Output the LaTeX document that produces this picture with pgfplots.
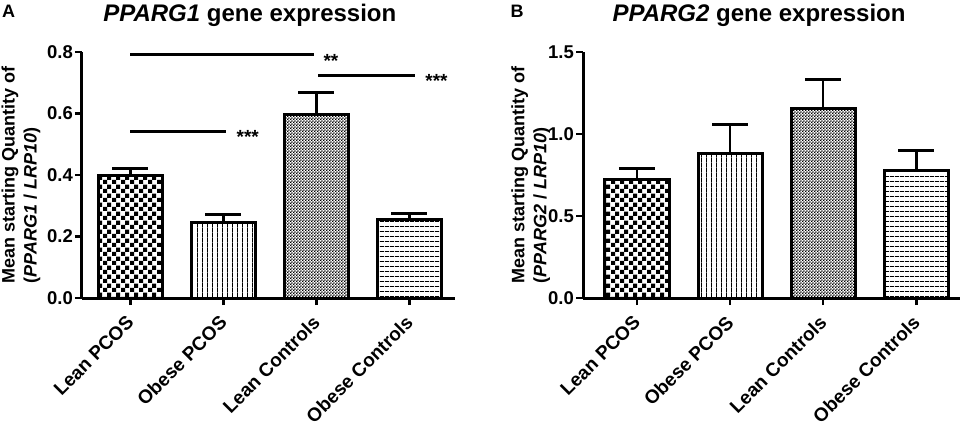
\documentclass[border=0pt]{standalone}
\usepackage{fontspec}
\setmainfont{Liberation Sans}
\usepackage{pgfplots}
\pgfplotsset{compat=1.18}
\usetikzlibrary{patterns}

\pgfdeclarepatternformonly{bigcheck}{\pgfpointorigin}{\pgfqpoint{8.6pt}{8.6pt}}{\pgfqpoint{8.6pt}{8.6pt}}{%
  \pgfpathrectangle{\pgfpointorigin}{\pgfqpoint{4.3pt}{4.3pt}}%
  \pgfpathrectangle{\pgfqpoint{4.3pt}{4.3pt}}{\pgfqpoint{4.3pt}{4.3pt}}%
  \pgfusepath{fill}}
\pgfdeclarepatternformonly{smallcheck}{\pgfpointorigin}{\pgfqpoint{3.2pt}{3.2pt}}{\pgfqpoint{3.2pt}{3.2pt}}{%
  \pgfpathrectangle{\pgfpointorigin}{\pgfqpoint{1.6pt}{1.6pt}}%
  \pgfpathrectangle{\pgfqpoint{1.6pt}{1.6pt}}{\pgfqpoint{1.6pt}{1.6pt}}%
  \pgfusepath{fill}}
\pgfdeclarepatternformonly{vlines}{\pgfpointorigin}{\pgfqpoint{5.2pt}{5.2pt}}{\pgfqpoint{5.2pt}{5.2pt}}{%
  \pgfpathrectangle{\pgfpointorigin}{\pgfqpoint{1pt}{5.2pt}}%
  \pgfusepath{fill}}
\pgfdeclarepatternformonly{hlines}{\pgfpointorigin}{\pgfqpoint{5pt}{5pt}}{\pgfqpoint{5pt}{5pt}}{%
  \pgfpathrectangle{\pgfpointorigin}{\pgfqpoint{5pt}{1pt}}%
  \pgfusepath{fill}}

\pgfplotsset{
  prism/.style={
    scale only axis,
    anchor=south west,
    height=246pt,
    ymin=0,
    axis lines=left,
    axis line style={-, line width=3pt, black},
    tick style={black, line width=2.5pt},
    major tick length=7pt,
    tick align=outside,
    xtick={0,1,2,3},
    xticklabels={Lean PCOS,Obese PCOS,Lean Controls,Obese Controls},
    x tick label style={yshift=-9pt, xshift=-5pt, rotate=45, anchor=north east, font=\fontsize{19}{20}\selectfont\bfseries, inner sep=0pt},
    y tick label style={font=\fontsize{18.5}{20}\selectfont\bfseries, inner sep=2pt},
    ylabel style={align=left, font=\fontsize{18}{22}\selectfont\bfseries, anchor=center},
    clip=false,
  },
  pbar/.style={
    ybar, bar width=64pt, bar shift=0pt, draw=black, line width=3pt, pattern=#1,
    error bars/.cd, y dir=plus, y explicit,
    error mark=|,
    error bar style={line width=2.5pt, black},
    error mark options={line width=3pt, mark size=18pt, black},
  },
  sig/.style={black, line width=3pt, no marks},
}

\begin{document}
\begin{tikzpicture}
\useasboundingbox (0,0) rectangle (965pt,421pt);

% ---------------- Panel A ----------------
\begin{axis}[prism,
  at={(82pt,123pt)}, width=373pt,
  xmin=-0.52, xmax=3.49,
  ymax=0.8,
  ytick={0,0.2,0.4,0.6,0.8},
  yticklabels={0.0,0.2,0.4,0.6,0.8},
  ylabel={Mean starting Quantity of\\(\textit{PPARG1} / \textit{LRP10})},
  ylabel style={at={(axis description cs:-0.1635,0.5)}},
]
\addplot[pbar=bigcheck] coordinates {(0,0.400) +- (0,0.020)};
\addplot[pbar=vlines] coordinates {(1,0.245) +- (0,0.027)};
\addplot[pbar=smallcheck] coordinates {(2,0.597) +- (0,0.072)};
\addplot[pbar=hlines] coordinates {(3,0.254) +- (0,0.022)};
\addplot[sig] coordinates {(0,0.793) (1.97,0.793)};
\addplot[sig] coordinates {(2.02,0.724) (3.06,0.724)};
\addplot[sig] coordinates {(0,0.540) (1.03,0.540)};
\node[anchor=base west, inner sep=0pt, font=\fontsize{19}{20}\selectfont\bfseries] at (axis cs:2.075,0.750) {**};
\node[anchor=base west, inner sep=0pt, font=\fontsize{19}{20}\selectfont\bfseries] at (axis cs:3.17,0.685) {***};
\node[anchor=base west, inner sep=0pt, font=\fontsize{19}{20}\selectfont\bfseries] at (axis cs:1.14,0.501) {***};
\node[anchor=base, inner sep=0pt, font=\fontsize{24}{26}\selectfont\bfseries] at (axis description cs:0.450,1.124) {\textit{PPARG1} gene expression};
\node[anchor=center, inner sep=0pt, font=\fontsize{18}{20}\selectfont\bfseries] at (axis description cs:-0.197,1.167) {A};
\end{axis}

% ---------------- Panel B ----------------
\begin{axis}[prism,
  at={(583pt,123pt)}, width=377pt,
  xmin=-0.58, xmax=3.47,
  ymax=1.5,
  ytick={0,0.5,1.0,1.5},
  yticklabels={0.0,0.5,1.0,1.5},
  ylabel={Mean starting Quantity of\\(\textit{PPARG2} / \textit{LRP10})},
  ylabel style={at={(axis description cs:-0.139,0.5)}},
]
\addplot[pbar=bigcheck] coordinates {(0,0.72) +- (0,0.07)};
\addplot[pbar=vlines] coordinates {(1,0.88) +- (0,0.18)};
\addplot[pbar=smallcheck] coordinates {(2,1.155) +- (0,0.175)};
\addplot[pbar=hlines] coordinates {(3,0.78) +- (0,0.12)};
\node[anchor=base, inner sep=0pt, font=\fontsize{24}{26}\selectfont\bfseries] at (axis description cs:0.467,1.124) {\textit{PPARG2} gene expression};
\node[anchor=center, inner sep=0pt, font=\fontsize{18}{20}\selectfont\bfseries] at (axis description cs:-0.175,1.167) {B};
\end{axis}
\end{tikzpicture}
\end{document}
